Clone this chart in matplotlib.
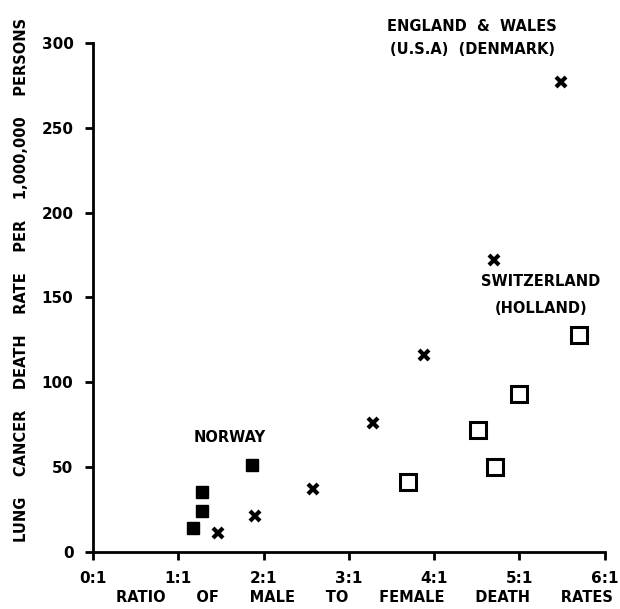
import matplotlib
matplotlib.use('Agg')
import matplotlib.pyplot as plt

# ratio of male to female death rate (x) vs lung cancer death rate per 1,000,000 (y)
norway_x = [1.17, 1.28, 1.28, 1.86]
norway_y = [14, 24, 35, 51]

cross_x = [1.47, 1.90, 2.58, 3.29, 3.88, 4.70, 5.49]
cross_y = [11, 21, 37, 76, 116, 172, 277]

swiss_x = [3.69, 4.52, 4.71, 5.00, 5.70]
swiss_y = [41, 72, 50, 93, 128]

xticks = [0, 1, 2, 3, 4, 5, 6]
xticklabels = ['0:1', '1:1', '2:1', '3:1', '4:1', '5:1', '6:1']
yticks = [0, 50, 100, 150, 200, 250, 300]

plt.rcParams['font.family'] = 'DejaVu Sans'
plt.rcParams['font.weight'] = 'bold'

fig = plt.figure(figsize=(6.2, 6.09), dpi=100)
ax = fig.add_axes([0.15, 0.094, 0.825, 0.835])

ax.plot(norway_x, norway_y, 's', color='black', markersize=8.5, linestyle='none')
ax.plot(cross_x, cross_y, 'x', color='black', markersize=7, mew=3, linestyle='none')
ax.plot(swiss_x, swiss_y, 's', color='black', markerfacecolor='white',
        markersize=11, mew=2.2, linestyle='none')

ax.set_xlim(0, 6)
ax.set_ylim(0, 300)
ax.set_xticks(xticks)
ax.set_xticklabels(xticklabels)
ax.set_yticks(yticks)
ax.tick_params(direction='out', length=6, width=2, labelsize=11, pad=8)
for lab in ax.get_xticklabels() + ax.get_yticklabels():
    lab.set_fontweight('bold')
ax.spines['top'].set_visible(False)
ax.spines['right'].set_visible(False)
ax.spines['left'].set_linewidth(2)
ax.spines['bottom'].set_linewidth(2)

ax.set_xlabel('RATIO      OF      MALE      TO      FEMALE      DEATH      RATES',
              fontsize=10.5, fontweight='bold', labelpad=3, x=0.53)
ax.set_ylabel('LUNG    CANCER    DEATH    RATE    PER    1,000,000    PERSONS',
              fontsize=10.5, fontweight='bold', labelpad=9, y=0.534)

ax.text(4.45, 303, 'ENGLAND  &  WALES\n(U.S.A)  (DENMARK)', ha='center',
        va='center', fontsize=10.5, fontweight='bold', linespacing=1.7)
ax.text(5.25, 139, 'SWITZERLAND\n(HOLLAND)', ha='center', va='bottom',
        fontsize=10.5, fontweight='bold', linespacing=2.0)
ax.text(1.6, 63, 'NORWAY', ha='center', va='bottom', fontsize=10.5,
        fontweight='bold')

fig.savefig('out.png', dpi=100)
